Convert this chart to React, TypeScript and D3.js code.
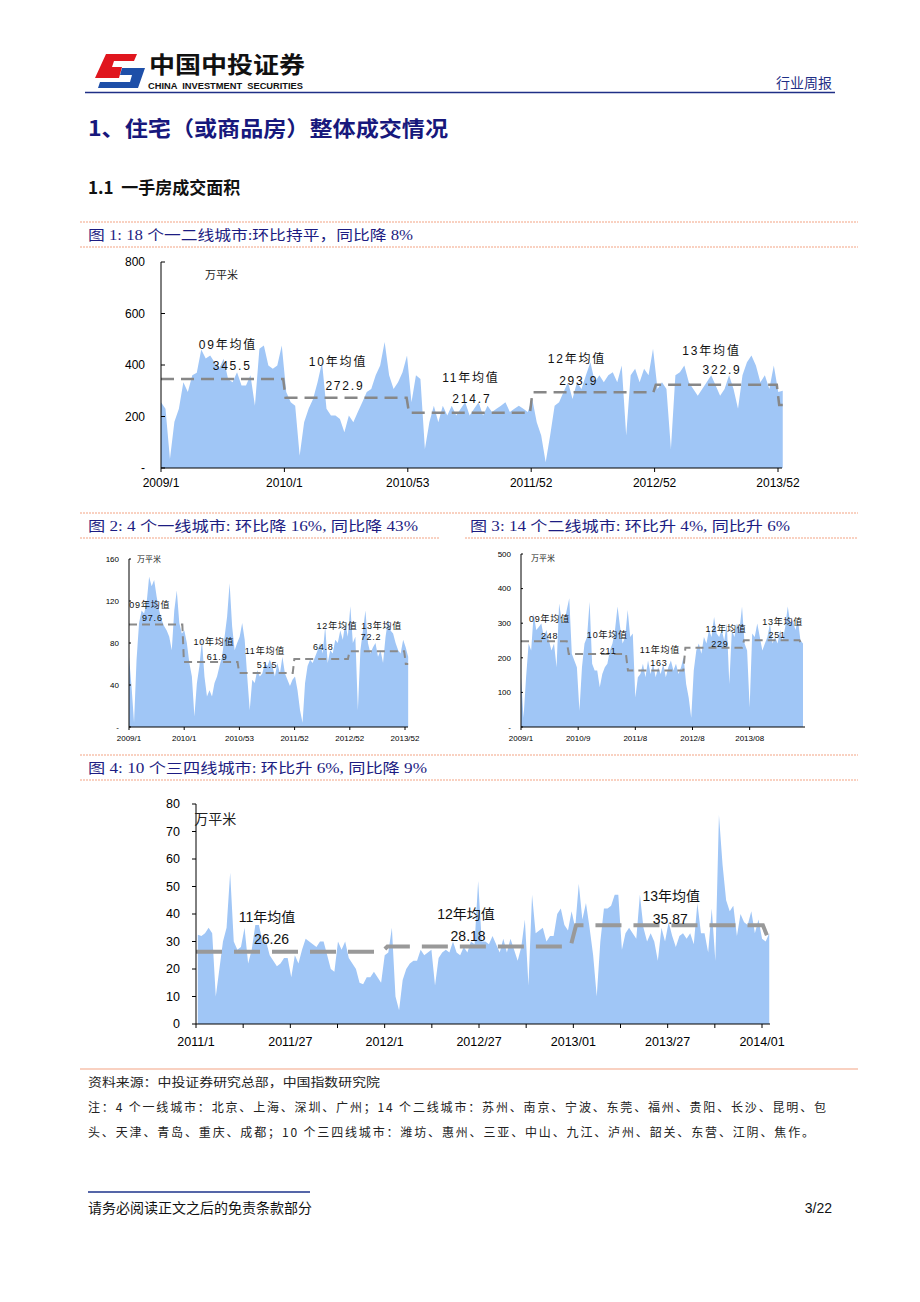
import React from "react";
import * as d3 from "d3";

// ---------------- DATA ----------------
// Figure 1: 18 cities weekly (万平米), 2009/1 – 2013/52+
const fig1Values = [
  255, 230, 35, 180, 230, 333, 295, 360, 370, 460,
  425, 437, 410, 385, 424, 346, 333, 372, 320, 320,
  360, 242, 463, 476, 398, 385, 398, 476, 295, 255,
  242, 48, 178, 230, 268, 333, 411, 230, 204, 204,
  190, 139, 204, 178, 217, 255, 295, 307, 360, 398,
  489, 360, 307, 333, 372, 437, 255, 360, 346, 74,
  178, 242, 178, 242, 204, 242, 204, 230, 255, 204,
  230, 255, 204, 242, 217, 230, 242, 255, 217, 230,
  242, 230, 217, 268, 178, 126, 22, 126, 242, 255,
  295, 333, 268, 333, 307, 360, 411, 333, 360, 333,
  360, 372, 333, 398, 126, 360, 385, 333, 385, 360,
  463, 307, 333, 307, 74, 360, 372, 398, 333, 307,
  281, 307, 333, 360, 320, 281, 307, 360, 307, 230,
  360, 411, 437, 398, 333, 360, 307, 398, 295, 300,
];
const fig1XTicks = [0, 52, 104, 156, 208, 260];
const fig1XLabels = ["2009/1", "2010/1", "2010/53", "2011/52", "2012/52", "2013/52"];
const fig1YTicks = [0, 200, 400, 600, 800];
const fig1YLabels = ["-", "200", "400", "600", "800"];
const fig1AvgLevels = [345.5, 272.9, 214.7, 293.9, 322.9, 245];
const fig1AvgBreaks = [0, 52, 104, 156, 208, 260, 262];
const fig1Years = ["09", "10", "11", "12", "13"];

// Figure 2: 4 first-tier cities
const fig2Values = [
  67, 39, 4, 64, 99, 111, 108, 118, 143, 134,
  140, 124, 111, 102, 96, 92, 86, 73, 111, 130,
  99, 89, 92, 80, 61, 48, 10, 42, 58, 83,
  48, 29, 35, 29, 42, 48, 58, 67, 86, 105,
  137, 96, 73, 80, 86, 99, 83, 48, 16, 45,
  42, 54, 48, 51, 61, 58, 64, 58, 48, 61,
  51, 67, 51, 45, 39, 45, 48, 35, 16, 4,
  42, 58, 64, 61, 67, 73, 80, 70, 96, 61,
  73, 70, 83, 80, 92, 83, 99, 86, 115, 80,
  86, 16, 73, 92, 111, 80, 70, 76, 80, 67,
  73, 61, 86, 102, 92, 89, 80, 73, 70, 83, 76, 67,
];
const fig2XTicks = [0, 52, 104, 156, 208, 260];
const fig2XLabels = ["2009/1", "2010/1", "2010/53", "2011/52", "2012/52", "2013/52"];
const fig2YTicks = [0, 40, 80, 120, 160];
const fig2YLabels = ["-", "40", "80", "120", "160"];
const fig2AvgLevels = [97.6, 61.9, 51.5, 64.8, 72.2, 60];
const fig2AvgBreaks = [0, 51, 103, 155, 207, 260, 263];

// Figure 3: 14 second-tier cities
const fig3Values = [
  144, 27, 144, 241, 221, 328, 280, 289, 299, 260,
  280, 250, 221, 241, 173, 357, 309, 299, 338, 372,
  212, 192, 173, 47, 173, 241, 260, 362, 183, 163,
  163, 115, 153, 173, 183, 221, 241, 280, 348, 289,
  241, 260, 338, 260, 270, 85, 144, 153, 183, 144,
  192, 153, 183, 144, 173, 153, 183, 144, 173, 192,
  163, 183, 153, 173, 202, 124, 85, 27, 163, 221,
  241, 212, 260, 241, 280, 260, 318, 270, 260, 280,
  250, 299, 124, 280, 260, 299, 280, 348, 241, 221,
  56, 270, 260, 299, 260, 221, 241, 260, 299, 241,
  260, 241, 280, 250, 289, 348, 299, 309, 280, 309, 250, 241,
];
const fig3XTicks = [0, 22.5, 45, 67.5, 90];
const fig3XLabels = ["2009/1", "2010/9", "2011/8", "2012/8", "2013/08"];
const fig3YTicks = [0, 100, 200, 300, 400, 500];
const fig3YLabels = ["-", "100", "200", "300", "400", "500"];
const fig3AvgLevels = [248, 211, 163, 229, 251, 240];
const fig3AvgBreaks = [0, 18.4, 41.7, 64.3, 87.4, 110, 111];

// Figure 4: 10 third/fourth-tier cities, 2011/1 – 2014/03
const fig4Values = [
  32.5, 32, 33, 35, 33, 10, 20, 30, 35, 55,
  30, 27, 28, 35, 22, 27, 36, 36, 30, 30,
  25, 23, 21, 22, 24, 24, 17, 25, 22, 27,
  31, 30, 29, 28, 30, 30, 25, 20, 19, 30,
  27, 30, 24, 22, 20, 15, 14.5, 17, 17, 19,
  17, 15, 25, 26, 35, 10, 5, 16, 20, 22,
  23, 23, 27, 25, 26, 27, 14, 24, 26, 27,
  26, 30, 26, 25, 28, 26, 30, 29, 52, 30,
  30, 29, 32, 29, 26, 31, 26, 31, 27, 23,
  28, 38, 14, 47, 33, 34, 35, 30, 32, 32,
  40, 42, 36, 34, 41, 35, 51, 38, 44, 35,
  25, 10, 30, 42, 42, 43, 47, 47, 27, 33,
  35, 33, 31, 47, 35, 30, 33, 30, 23, 35,
  30, 37, 32, 28, 32, 33, 31, 33, 29, 44,
  33, 33, 26, 42, 23, 76, 58, 45, 41, 43,
  32, 40, 37, 36, 41, 33, 38, 31, 30, 33,
];
const fig4XTicks = [0, 26, 52, 78, 104, 130, 156];
const fig4XLabels = ["2011/1", "2011/27", "2012/1", "2012/27", "2013/01", "2013/27", "2014/01"];
const fig4YTicks = [0, 10, 20, 30, 40, 50, 60, 70, 80];
const fig4YLabels = ["0", "10", "20", "30", "40", "50", "60", "70", "80"];
const fig4AvgLevels = [26.26, 28.18, 35.87, 31];
const fig4AvgBreaks = [0, 52, 104, 157, 158];
const fig4Years = ["11", "12", "13"];

// ---------------- LAYOUT / STYLE ----------------
const FILL = "#A0C6F6";
const NAVY = "#1C1C82";
const ORANGE = "#F3A483";
const CJK = '"Noto Sans CJK SC", sans-serif';
const SANS = '"Liberation Sans", Arial, "Noto Sans CJK SC", sans-serif';
const SERIF = '"Liberation Serif", "Noto Sans CJK SC", serif';

type Note = { text: string; x: number; y: number; anchor?: "start" | "middle" | "end" };

type Cfg = {
  values: number[];
  dataStart: number;
  dataEnd: number;
  xDomain: [number, number];
  xRange: [number, number];
  axisEnd: number;
  yDomain: [number, number];
  yRange: [number, number];
  yTicks: number[];
  yLabels: string[];
  yLabelGap: number;
  yTickLen: number;
  xTicks: number[];
  xLabels: string[];
  xLabelDy: number;
  xTickMarks: number[];
  xTickLen: number;
  fontSize: number;
  avgLevels: number[];
  avgBreaks: number[];
  avgGap: number;
  dash: string;
  dashWidth: number;
  dashColor: string;
  notes: Note[];
  noteSize: number;
  noteSpacing: number;
  unitNote: Note;
  unitSize: number;
};

function AreaChart({ cfg }: { cfg: Cfg }) {
  const x = d3.scaleLinear().domain(cfg.xDomain).range(cfg.xRange);
  const y = d3.scaleLinear().domain(cfg.yDomain).range(cfg.yRange);
  const n = cfg.values.length;
  const pos = (i: number) => cfg.dataStart + (i * (cfg.dataEnd - cfg.dataStart)) / (n - 1);
  const area = d3
    .area<number>()
    .x((_, i) => x(pos(i)))
    .y0(y(0))
    .y1((d) => y(d));

  const avgPts: [number, number][] = [];
  const L = cfg.avgLevels.length;
  cfg.avgLevels.forEach((lv, j) => {
    const s = j === 0 ? cfg.avgBreaks[0] : cfg.avgBreaks[j] + cfg.avgGap / 2;
    const e = j === L - 1 ? cfg.avgBreaks[j + 1] : cfg.avgBreaks[j + 1] - cfg.avgGap / 2;
    avgPts.push([s, lv], [e, lv]);
  });
  const line = d3
    .line<[number, number]>()
    .x((d) => x(d[0]))
    .y((d) => y(d[1]));

  const x0 = cfg.xRange[0];
  const yBase = y(0);
  return (
    <g>
      <path d={area(cfg.values) || ""} fill={FILL} />
      <path
        d={line(avgPts) || ""}
        fill="none"
        stroke={cfg.dashColor}
        strokeWidth={cfg.dashWidth}
        strokeDasharray={cfg.dash}
      />
      <line x1={x0} x2={x0} y1={y(cfg.yDomain[1])} y2={yBase} stroke="#000" strokeWidth={1} />
      <line x1={x0} x2={cfg.axisEnd} y1={yBase} y2={yBase} stroke="#000" strokeWidth={1} />
      {cfg.yTicks.map((t, i) => (
        <g key={"yt" + i}>
          <line x1={x0} x2={x0 + cfg.yTickLen} y1={y(t)} y2={y(t)} stroke="#000" strokeWidth={1} />
          <text
            x={x0 - cfg.yLabelGap}
            y={y(t)}
            dy="0.35em"
            textAnchor="end"
            fontSize={cfg.fontSize}
            fontFamily={SANS}
            fill="#000"
          >
            {cfg.yLabels[i]}
          </text>
        </g>
      ))}
      {cfg.xTickMarks.map((t, i) => (
        <line
          key={"xm" + i}
          x1={x(t)}
          x2={x(t)}
          y1={yBase}
          y2={yBase + cfg.xTickLen}
          stroke="#000"
          strokeWidth={1}
        />
      ))}
      {cfg.xTicks.map((t, i) => (
        <text
          key={"xl" + i}
          x={x(t)}
          y={yBase + cfg.xLabelDy}
          textAnchor="middle"
          fontSize={cfg.fontSize}
          fontFamily={SANS}
          fill="#000"
        >
          {cfg.xLabels[i]}
        </text>
      ))}
      <text
        x={x(cfg.unitNote.x)}
        y={y(cfg.unitNote.y)}
        fontSize={cfg.unitSize}
        fontFamily={CJK}
        fill="#222"
        textAnchor="start"
      >
        {cfg.unitNote.text}
      </text>
      {cfg.notes.map((nt, i) => (
        <text
          key={"nt" + i}
          x={x(nt.x)}
          y={y(nt.y)}
          textAnchor={nt.anchor || "middle"}
          fontSize={cfg.noteSize}
          fontFamily={SANS}
          letterSpacing={cfg.noteSpacing}
          fill="#111"
        >
          {nt.text}
        </text>
      ))}
    </g>
  );
}

function avgNotes(years: string[], levels: number[], pos: number[][]): Note[] {
  const out: Note[] = [];
  years.forEach((yr, i) => {
    out.push({ text: yr + "年均值", x: pos[i][0], y: pos[i][1] });
    out.push({ text: String(levels[i]), x: pos[i][2], y: pos[i][3] });
  });
  return out;
}

// annotation anchors in data units: [labelX, labelY, numberX, numberY]
const fig1NotePos = [
  [28.2, 462, 30, 381],
  [74.6, 396, 77.5, 303],
  [130.6, 334, 131, 252],
  [175.3, 408, 176, 322],
  [232, 439, 236.4, 365],
];
const fig2NotePos = [
  [19.6, 113, 22, 101],
  [80, 78, 83, 64],
  [128, 69.5, 130, 56],
  [196, 93, 183, 73],
  [238, 93, 228, 83],
];
const fig3NotePos = [
  [11.2, 303, 11.3, 254],
  [34, 257, 34.3, 211],
  [54.7, 214, 54.3, 176],
  [80.7, 274.5, 78.3, 231],
  [103, 295, 100.8, 257],
];
const fig4NotePos = [
  [19.6, 37, 20.8, 29.1],
  [74.4, 38.2, 75, 30.2],
  [131, 44.7, 130.7, 36.4],
];

const fig1Cfg: Cfg = {
  values: fig1Values,
  dataStart: 0,
  dataEnd: 262,
  xDomain: [0, 260],
  xRange: [161, 778],
  axisEnd: 782,
  yDomain: [0, 800],
  yRange: [468, 262],
  yTicks: fig1YTicks,
  yLabels: fig1YLabels,
  yLabelGap: 16,
  yTickLen: 4,
  xTicks: fig1XTicks,
  xLabels: fig1XLabels,
  xLabelDy: 19,
  xTickMarks: fig1XTicks,
  xTickLen: 4,
  fontSize: 12,
  avgLevels: fig1AvgLevels,
  avgBreaks: fig1AvgBreaks,
  avgGap: 1,
  dash: "13,7",
  dashWidth: 2.5,
  dashColor: "#878787",
  notes: avgNotes(fig1Years, fig1AvgLevels, fig1NotePos),
  noteSize: 12,
  noteSpacing: 1.8,
  unitNote: { text: "万平米", x: 18.5, y: 734 },
  unitSize: 11,
};

const fig2Cfg: Cfg = {
  values: fig2Values,
  dataStart: 0,
  dataEnd: 263,
  xDomain: [0, 260],
  xRange: [129, 405],
  axisEnd: 408,
  yDomain: [0, 160],
  yRange: [727, 559],
  yTicks: fig2YTicks,
  yLabels: fig2YLabels,
  yLabelGap: 10,
  yTickLen: 2,
  xTicks: fig2XTicks,
  xLabels: fig2XLabels,
  xLabelDy: 14,
  xTickMarks: fig2XTicks,
  xTickLen: 3,
  fontSize: 8,
  avgLevels: fig2AvgLevels,
  avgBreaks: fig2AvgBreaks,
  avgGap: 1.5,
  dash: "8,5",
  dashWidth: 2,
  dashColor: "#8a8a8a",
  notes: avgNotes(["09", "10", "11", "12", "13"], fig2AvgLevels, fig2NotePos),
  noteSize: 9,
  noteSpacing: 0.8,
  unitNote: { text: "万平米", x: 7.5, y: 157 },
  unitSize: 8,
};

const fig3Cfg: Cfg = {
  values: fig3Values,
  dataStart: 0,
  dataEnd: 111,
  xDomain: [0, 111],
  xRange: [521, 803],
  axisEnd: 805,
  yDomain: [0, 500],
  yRange: [727, 554],
  yTicks: fig3YTicks,
  yLabels: fig3YLabels,
  yLabelGap: 10,
  yTickLen: 2,
  xTicks: fig3XTicks,
  xLabels: fig3XLabels,
  xLabelDy: 14,
  xTickMarks: fig3XTicks,
  xTickLen: 3,
  fontSize: 8,
  avgLevels: fig3AvgLevels,
  avgBreaks: fig3AvgBreaks,
  avgGap: 0.8,
  dash: "8,5",
  dashWidth: 2,
  dashColor: "#8a8a8a",
  notes: avgNotes(["09", "10", "11", "12", "13"], fig3AvgLevels, fig3NotePos),
  noteSize: 9,
  noteSpacing: 0.8,
  unitNote: { text: "万平米", x: 3.9, y: 480 },
  unitSize: 8,
};

const fig4Cfg: Cfg = {
  values: fig4Values,
  dataStart: 0.5,
  dataEnd: 158,
  xDomain: [0, 156],
  xRange: [196, 762],
  axisEnd: 770,
  yDomain: [0, 80],
  yRange: [1024, 804],
  yTicks: fig4YTicks,
  yLabels: fig4YLabels,
  yLabelGap: 16,
  yTickLen: -4,
  xTicks: fig4XTicks,
  xLabels: fig4XLabels,
  xLabelDy: 22,
  xTickMarks: d3.range(0, 157, 13),
  xTickLen: 4,
  fontSize: 12.5,
  avgLevels: fig4AvgLevels,
  avgBreaks: fig4AvgBreaks,
  avgGap: 1.5,
  dash: "26,12",
  dashWidth: 4,
  dashColor: "#999999",
  notes: avgNotes(fig4Years, fig4AvgLevels, fig4NotePos),
  noteSize: 14,
  noteSpacing: 0,
  unitNote: { text: "万平米", x: -0.5, y: 72.7 },
  unitSize: 14,
};

function CaptionBar({
  y1,
  y2,
  segments,
}: {
  y1: number;
  y2: number;
  segments: { x1: number; x2: number; text: string; tx: number; tw: number }[];
}) {
  return (
    <g>
      <line x1={80} x2={858} y1={y1} y2={y1} stroke={ORANGE} strokeWidth={1.2} strokeDasharray="2,1" />
      {segments.map((s, i) => (
        <g key={i}>
          <line x1={s.x1} x2={s.x2} y1={y2} y2={y2} stroke={ORANGE} strokeWidth={1.2} strokeDasharray="2,1" />
          <text
            x={s.tx}
            y={y2 - 7}
            fontSize={14}
            fontFamily={SERIF}
            fill={NAVY}
            textLength={s.tw}
            lengthAdjust="spacingAndGlyphs"
          >
            {s.text}
          </text>
        </g>
      ))}
    </g>
  );
}

export default function App() {
  return (
    <svg
      width={920}
      height={1302}
      style={{ position: "absolute", left: 0, top: 0, background: "#fff" }}
    >
      <rect x={0} y={0} width={920} height={1302} fill="#fff" />
      {/* Logo */}
      <path d="M106,54 L137,54 L134,61 L114,61 L112,67 L122,67 L119,78 L95,78 Z" fill="#E0161E" />
      <path d="M122,68 L145,68 L138,88 L98,88 L100,82 L130,82 L132,75 L120,75 Z" fill="#1E4FA8" />
      <text x={149} y={73} fontSize={23} fontWeight={700} fontFamily={CJK} fill="#111" textLength={156} lengthAdjust="spacingAndGlyphs">
        中国中投证券
      </text>
      <text x={148} y={89} fontSize={8.5} fontWeight={700} fontFamily={SANS} fill="#111" textLength={155} lengthAdjust="spacingAndGlyphs" xmlSpace="preserve">
        CHINA  INVESTMENT  SECURITIES
      </text>
      <text x={832} y={88} fontSize={14} fontFamily={CJK} fill="#1F2F86" textAnchor="end">
        行业周报
      </text>
      <line x1={85} x2={835} y1={92.5} y2={92.5} stroke="#1F2F86" strokeWidth={1.5} />

      {/* Titles */}
      <text x={88} y={136} fontSize={21} fontWeight={700} fontFamily={CJK} fill="#17187C" textLength={360} lengthAdjust="spacingAndGlyphs">
        1、住宅（或商品房）整体成交情况
      </text>
      <text x={88} y={194} fontSize={17} fontWeight={700} fontFamily={CJK} fill="#111" xmlSpace="preserve">
        1.1  一手房成交面积
      </text>

      {/* Figure 1 */}
      <CaptionBar
        y1={222}
        y2={247}
        segments={[{ x1: 80, x2: 858, text: "图 1: 18 个一二线城市:环比持平，同比降 8%", tx: 88, tw: 325 }]}
      />
      <AreaChart cfg={fig1Cfg} />

      {/* Figures 2 & 3 */}
      <CaptionBar
        y1={513}
        y2={538}
        segments={[
          { x1: 80, x2: 440, text: "图 2: 4 个一线城市: 环比降 16%, 同比降 43%", tx: 88, tw: 330 },
          { x1: 465, x2: 858, text: "图 3: 14 个二线城市: 环比升 4%, 同比升 6%", tx: 470, tw: 320 },
        ]}
      />
      <AreaChart cfg={fig2Cfg} />
      <AreaChart cfg={fig3Cfg} />

      {/* Figure 4 */}
      <CaptionBar
        y1={755}
        y2={780}
        segments={[{ x1: 80, x2: 858, text: "图 4: 10 个三四线城市: 环比升 6%, 同比降 9%", tx: 88, tw: 339 }]}
      />
      <AreaChart cfg={fig4Cfg} />

      {/* Notes */}
      <line x1={80} x2={858} y1={1069} y2={1069} stroke={ORANGE} strokeWidth={1.2} />
      <text x={88} y={1087} fontSize={12} fontFamily={CJK} fill="#222" textLength={292} lengthAdjust="spacingAndGlyphs">
        资料来源：中投证券研究总部，中国指数研究院
      </text>
      <text x={88} y={1112} fontSize={12} fontFamily={CJK} fill="#222" textLength={738} lengthAdjust="spacing">
        注：4 个一线城市：北京、上海、深圳、广州；14 个二线城市：苏州、南京、宁波、东莞、福州、贵阳、长沙、昆明、包
      </text>
      <text x={88} y={1137} fontSize={12} fontFamily={CJK} fill="#222" textLength={726} lengthAdjust="spacing">
        头、天津、青岛、重庆、成都；10 个三四线城市：潍坊、惠州、三亚、中山、九江、泸州、韶关、东营、江阴、焦作。
      </text>

      {/* Footer */}
      <line x1={88} x2={310} y1={1192} y2={1192} stroke="#5566A8" strokeWidth={2} />
      <text x={88} y={1213} fontSize={14} fontFamily={CJK} fill="#111" textLength={224} lengthAdjust="spacingAndGlyphs">
        请务必阅读正文之后的免责条款部分
      </text>
      <text x={832} y={1213} fontSize={14} fontFamily={SANS} fill="#111" textAnchor="end">
        3/22
      </text>
    </svg>
  );
}
